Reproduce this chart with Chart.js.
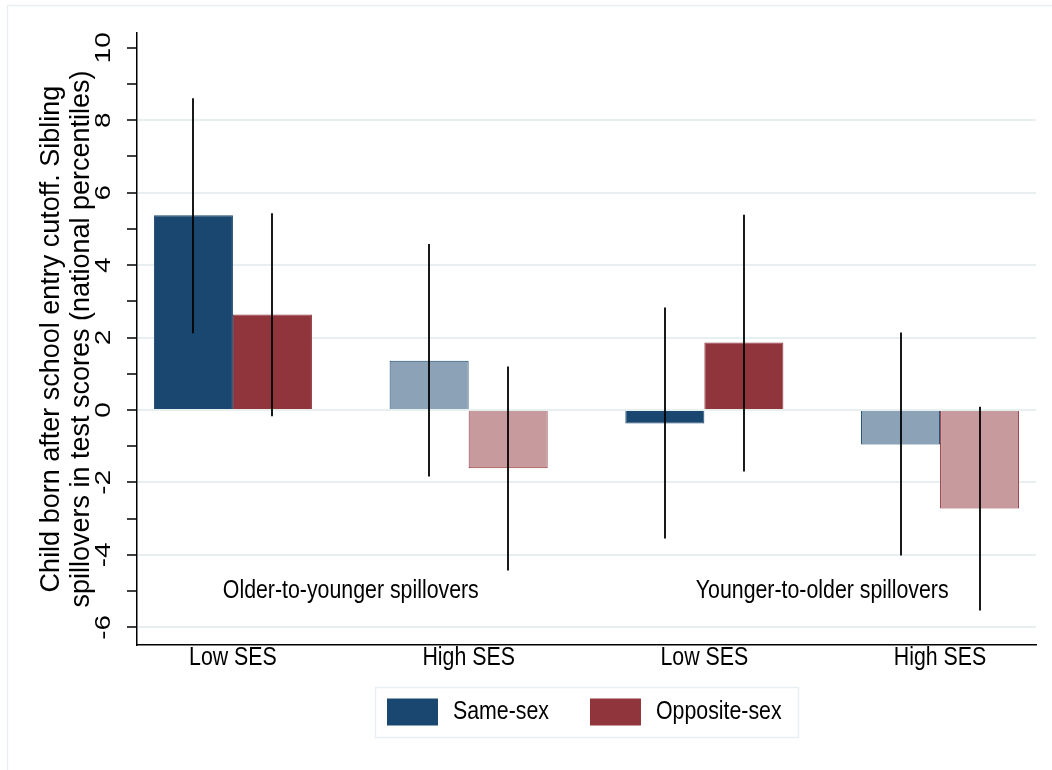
<!DOCTYPE html>
<html>
<head>
<meta charset="utf-8">
<title>Sibling spillovers by SES</title>
<script src="https://cdn.jsdelivr.net/npm/chart.js@4.4.1/dist/chart.umd.min.js"></script>
<style>
  html, body { margin: 0; padding: 0; background: #fff; }
  canvas { display: block; }
</style>
</head>
<body>
<canvas id="chart" width="1052" height="770"></canvas>
<script>
// ---- data ----
const categories = ['Low SES', 'High SES', 'Low SES', 'High SES'];
const seriesNames = ['Same-sex', 'Opposite-sex'];

const sameSex        = [5.38, 1.36, -0.37, -0.95];
const sameSexLow     = [2.12, -1.84, -3.55, -4.02];
const sameSexHigh    = [8.61, 4.58, 2.83, 2.14];

const oppositeSex     = [2.64, -1.61, 1.86, -2.72];
const oppositeSexLow  = [-0.17, -4.43, -1.70, -5.54];
const oppositeSexHigh = [5.43, 1.20, 5.39, 0.09];

const panelLabels = ['Older-to-younger spillovers', 'Younger-to-older spillovers'];
const panelLabelLevel = -5;

const yTickValues = [-6, -5, -4, -3, -2, -1, 0, 1, 2, 3, 4, 5, 6, 7, 8, 9, 10];
const yTitle = ['Child born after school entry cutoff. Sibling',
                'spillovers in test scores (national percentiles)'];

// ---- styling ----
const FONT = '"Liberation Sans", Arial, Helvetica, sans-serif';
const NARROW = '"Liberation Sans Narrow", "Liberation Sans", Arial, sans-serif';
const navy = '#1a476f', maroon = '#90353b';
const navyLight = '#8ca3b7', maroonLight = '#c79a9d';
const gridColor = '#e8eff1';

// use a condensed face when it exists, otherwise squeeze the regular one
const probe = document.createElement('canvas').getContext('2d');
probe.font = '26px "Liberation Sans Narrow", monospace';
const wNarrow = probe.measureText('Low SES').width;
probe.font = '26px monospace';
const hasNarrow = Math.abs(probe.measureText('Low SES').width - wNarrow) > 0.5;
const hText = hasNarrow ? { family: NARROW, sx: 1 } : { family: FONT, sx: 0.82 };

const positions = categories.map((_, i) => i + 1);
const sideGap = 0.407;

function drawText(ctx, text, x, y, o) {
  ctx.save();
  ctx.translate(x, y);
  if (o.rotate) ctx.rotate(o.rotate);
  ctx.scale(o.sx || 1, o.sy || 1);
  ctx.font = o.font;
  ctx.fillStyle = o.color || '#000';
  ctx.textAlign = o.align || 'center';
  ctx.textBaseline = o.baseline || 'middle';
  ctx.fillText(text, 0, 0);
  ctx.restore();
}

// white page with a faint outer frame
const framePlugin = {
  id: 'frame',
  beforeDraw(chart) {
    const ctx = chart.ctx;
    ctx.save();
    ctx.fillStyle = '#fff';
    ctx.fillRect(0, 0, chart.width, chart.height);
    ctx.strokeStyle = gridColor;
    ctx.lineWidth = 1.5;
    ctx.strokeRect(7.5, 5.5, chart.width + 20, chart.height + 20);
    ctx.restore();
  }
};

// confidence intervals as plain vertical spikes through each bar
const ciPlugin = {
  id: 'ci',
  afterDatasetsDraw(chart) {
    const ctx = chart.ctx, y = chart.scales.y;
    ctx.save();
    ctx.strokeStyle = '#000';
    ctx.lineWidth = 1.8;
    chart.data.datasets.forEach((ds, di) => {
      chart.getDatasetMeta(di).data.forEach((bar, i) => {
        const x = Math.round(bar.x);
        ctx.beginPath();
        ctx.moveTo(x, y.getPixelForValue(ds.ciHigh[i]));
        ctx.lineTo(x, y.getPixelForValue(ds.ciLow[i]));
        ctx.stroke();
      });
    });
    ctx.restore();
  }
};

// axis tick labels, panel captions and the boxed legend
const textPlugin = {
  id: 'texts',
  afterDraw(chart) {
    const ctx = chart.ctx, xs = chart.scales.x, ys = chart.scales.y;
    const hFont = '26px ' + hText.family;

    // y tick labels, rotated, every other tick
    yTickValues.filter(v => v % 2 === 0).forEach(v => {
      drawText(ctx, String(v), 104, ys.getPixelForValue(v), {
        font: '28px ' + FONT, rotate: -Math.PI / 2, sy: 0.8
      });
    });

    // x tick labels under each category position
    xs.ticks.forEach((t, i) => {
      drawText(ctx, categories[positions.indexOf(t.value)] || '',
        xs.getPixelForTick(i), xs.top + 13, { font: hFont, sx: hText.sx });
    });

    panelLabels.forEach((txt, k) => {
      const xv = (positions[2 * k] + positions[2 * k + 1]) / 2;
      drawText(ctx, txt, xs.getPixelForValue(xv), ys.getPixelForValue(panelLabelLevel), {
        font: hFont, sx: hText.sx
      });
    });

    // legend
    const sw = 51, sh = 27, padL = 12, padR = 16, gapT = 15, gapItem = 41;
    const top = 687, boxH = 50;
    ctx.save();
    ctx.font = hFont;
    const widths = seriesNames.map(s => ctx.measureText(s).width * hText.sx);
    ctx.restore();
    const total = padL + padR + gapItem * (seriesNames.length - 1) +
      widths.reduce((a, w) => a + sw + gapT + w, 0);
    const cx = (chart.chartArea.left + chart.chartArea.right) / 2;
    let x = Math.round(cx - total / 2);
    ctx.save();
    ctx.strokeStyle = gridColor;
    ctx.lineWidth = 1.5;
    ctx.strokeRect(x + 0.5, top + 0.5, Math.round(total), boxH);
    ctx.restore();
    x += padL;
    const midY = top + boxH / 2;
    chart.data.datasets.forEach((ds, i) => {
      ctx.save();
      ctx.fillStyle = ds.swatch;
      ctx.fillRect(x, midY - sh / 2, sw, sh);
      ctx.restore();
      drawText(ctx, seriesNames[i], x + sw + gapT, midY, {
        font: hFont, sx: hText.sx, align: 'left'
      });
      x += sw + gapT + widths[i] + gapItem;
    });
  }
};

const shade = (dark, light) => categories.map(c => (c === 'High SES' ? light : dark));

new Chart(document.getElementById('chart'), {
  type: 'bar',
  data: {
    datasets: [
      {
        label: seriesNames[0],
        data: sameSex.map((v, i) => ({ x: positions[i], y: v })),
        ciLow: sameSexLow, ciHigh: sameSexHigh,
        backgroundColor: shade(navy, navyLight),
        borderColor: navy, borderWidth: 1, swatch: navy
      },
      {
        label: seriesNames[1],
        data: oppositeSex.map((v, i) => ({ x: positions[i], y: v })),
        ciLow: oppositeSexLow, ciHigh: oppositeSexHigh,
        backgroundColor: shade(maroon, maroonLight),
        borderColor: maroon, borderWidth: 1, swatch: maroon
      }
    ]
  },
  options: {
    responsive: false,
    animation: false,
    devicePixelRatio: 1,
    categoryPercentage: 0.6705,
    barPercentage: 1,
    layout: { padding: { left: 0, top: 33, right: 16, bottom: 85 } },
    plugins: { legend: { display: false }, tooltip: { enabled: false } },
    scales: {
      x: {
        type: 'linear',
        offset: false,
        min: positions[0] - sideGap,
        max: positions[positions.length - 1] + sideGap,
        afterBuildTicks: s => { s.ticks = positions.map(v => ({ value: v })); },
        afterFit: s => { s.height = 40; },
        grid: { display: false, drawTicks: false, offset: false },
        border: { color: '#000', width: 1.5 },
        ticks: { display: false }
      },
      y: {
        min: -6.49,
        max: 10.41,
        afterBuildTicks: s => { s.ticks = yTickValues.map(v => ({ value: v })); },
        afterFit: s => { s.width = 137; },
        ticks: { display: false },
        grid: {
          color: c => (c.tick && c.tick.value % 2 === 0 && c.tick.value !== 10) ? gridColor : 'rgba(0,0,0,0)',
          lineWidth: 2,
          tickColor: '#000',
          tickLength: 10,
          tickWidth: 1.5
        },
        border: { color: '#000', width: 1.5 },
        title: {
          display: true,
          text: yTitle,
          color: '#000',
          font: { family: FONT, size: 27, lineHeight: 1.1 },
          padding: { top: 37, bottom: 0 }
        }
      }
    }
  },
  plugins: [framePlugin, ciPlugin, textPlugin]
});
</script>
</body>
</html>
